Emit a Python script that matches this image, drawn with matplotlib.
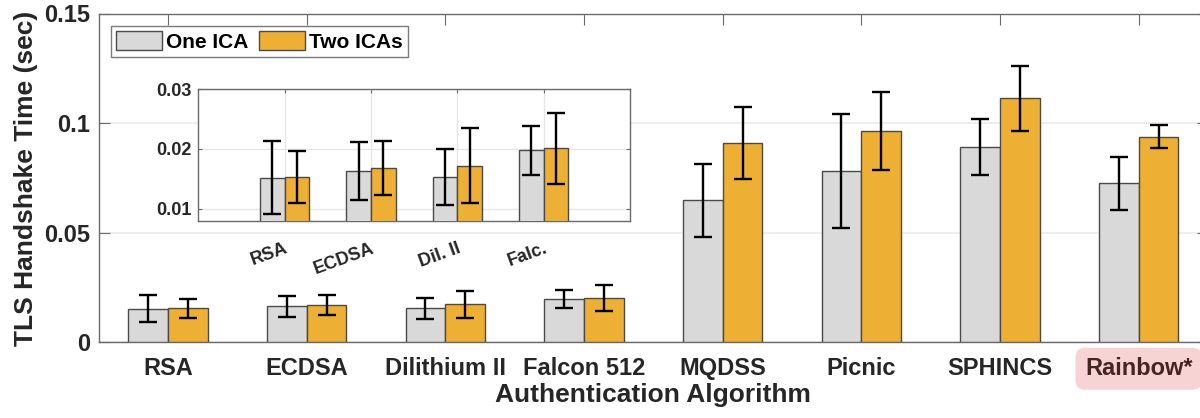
import matplotlib
matplotlib.use("Agg")
import matplotlib.pyplot as plt
import numpy as np

categories = ['RSA', 'ECDSA', 'Dilithium II', 'Falcon 512', 'MQDSS', 'Picnic', 'SPHINCS', 'Rainbow*']
one_ica = [0.0152, 0.0163, 0.0153, 0.0198, 0.0648, 0.0779, 0.0889, 0.0724]
two_icas = [0.0153, 0.0168, 0.0172, 0.0201, 0.0909, 0.0963, 0.1113, 0.0937]
one_err = [0.0061, 0.0048, 0.0047, 0.0041, 0.0167, 0.0260, 0.0128, 0.0121]
two_err = [0.0043, 0.0046, 0.0063, 0.0060, 0.0166, 0.0178, 0.0148, 0.0053]
inset_labels = ['RSA', 'ECDSA', 'Dil. II', 'Falc.']
series_names = ['One ICA', 'Two ICAs']

GRAY = '#D9D9D9'
ORANGE = '#EDB035'
EDGE = '#4a4a4a'
AX = '#6a6a6a'
TXT = '#262626'

plt.rcParams['font.family'] = ['Liberation Sans', 'DejaVu Sans']
plt.rcParams['font.weight'] = 'bold'

W, H = 1200, 418
fig = plt.figure(figsize=(12, 4.18), dpi=100)

def px(l, t, r, b):
    return [l / W, 1 - b / H, (r - l) / W, (b - t) / H]

ax = fig.add_axes(px(98.7, 13.5, 1208, 342))
x = np.arange(1, len(categories) + 1)
bw = 0.287
ekw = dict(ecolor='black', elinewidth=1.7, capsize=6.5, capthick=1.7)
b1 = ax.bar(x - bw / 2, one_ica, bw, color=GRAY, edgecolor=EDGE, linewidth=1.0,
            yerr=one_err, error_kw=ekw, label=series_names[0], zorder=3)
b2 = ax.bar(x + bw / 2, two_icas, bw, color=ORANGE, edgecolor=EDGE, linewidth=1.0,
            yerr=two_err, error_kw=ekw, label=series_names[1], zorder=3)
ax.set_xlim(0.5, 8.5)
ax.set_ylim(0, 0.15)
ax.set_yticks([0, 0.05, 0.1, 0.15])
ax.set_yticklabels(['0', '0.05', '0.1', '0.15'])
ax.set_xticks(x)
ax.set_xticklabels(categories)
ax.yaxis.grid(True, color='#ebebeb', linewidth=1.2, zorder=0)
ax.set_axisbelow(True)
for s in ax.spines.values():
    s.set_color(AX)
    s.set_linewidth(1.0)
ax.tick_params(direction='in', length=8, width=0.8, color=AX, top=True, right=True,
               labelsize=17, labelcolor=TXT)
ax.tick_params(axis='x', pad=11)
ax.tick_params(axis='y', pad=6)
for lbl in ax.get_xticklabels():
    lbl.set_fontweight('bold')
    if lbl.get_text() == 'Rainbow*':
        lbl.set_color('#452424')
        lbl.set_bbox(dict(boxstyle='round,pad=0.4,rounding_size=0.4', fc='#F8D3D3', ec='none'))
for lbl in ax.get_yticklabels():
    lbl.set_fontweight('bold')

fig.text(653 / W, 1 - 401.7 / H, 'Authentication Algorithm', ha='center', va='baseline',
         fontsize=19, fontweight='bold', color=TXT)
fig.text(33.5 / W, 1 - 178 / H, 'TLS Handshake Time (sec)', ha='center', va='baseline',
         rotation=90, rotation_mode='anchor', fontsize=19, fontweight='bold', color=TXT)

leg = ax.legend(loc='upper left', bbox_to_anchor=(111 / W, 1 - 26 / H),
                bbox_transform=fig.transFigure, ncol=2, fontsize=15,
                handlelength=2.2, handleheight=1.0, handletextpad=0.2,
                columnspacing=0.5, borderpad=0.25, borderaxespad=0,
                fancybox=False, framealpha=1, edgecolor='#7a7a7a')
leg.get_frame().set_linewidth(1.0)
for t in leg.get_texts():
    t.set_fontweight('bold')
    t.set_color('black')

# Inset
ins = fig.add_axes(px(198.3, 89.3, 630, 220.5))
n = len(inset_labels)
xi = np.arange(1, n + 1)
ins.bar(xi - bw / 2, one_ica[:n], bw, color=GRAY, edgecolor=EDGE, linewidth=1.0,
        yerr=one_err[:n], error_kw=ekw, zorder=3)
ins.bar(xi + bw / 2, two_icas[:n], bw, color=ORANGE, edgecolor=EDGE, linewidth=1.0,
        yerr=two_err[:n], error_kw=ekw, zorder=3)
ins.set_xlim(0, 5)
ins.set_ylim(0.008, 0.03)
ins.set_yticks([0.01, 0.02, 0.03])
ins.set_yticklabels(['0.01', '0.02', '0.03'])
ins.set_xticks(xi)
ins.set_xticklabels(inset_labels, rotation=20, ha='right', rotation_mode='anchor')
ins.grid(True, color='#e6e6e6', linewidth=1.0, zorder=0)
ins.set_axisbelow(True)
for s in ins.spines.values():
    s.set_color(AX)
    s.set_linewidth(1.0)
ins.tick_params(direction='in', length=3, width=0.8, color=AX, top=True, right=True,
                labelsize=13, labelcolor=TXT)
ins.tick_params(axis='x', pad=14)
ins.tick_params(axis='y', pad=5)
for lbl in ins.get_xticklabels() + ins.get_yticklabels():
    lbl.set_fontweight('bold')

fig.savefig('out.png', dpi=100)
